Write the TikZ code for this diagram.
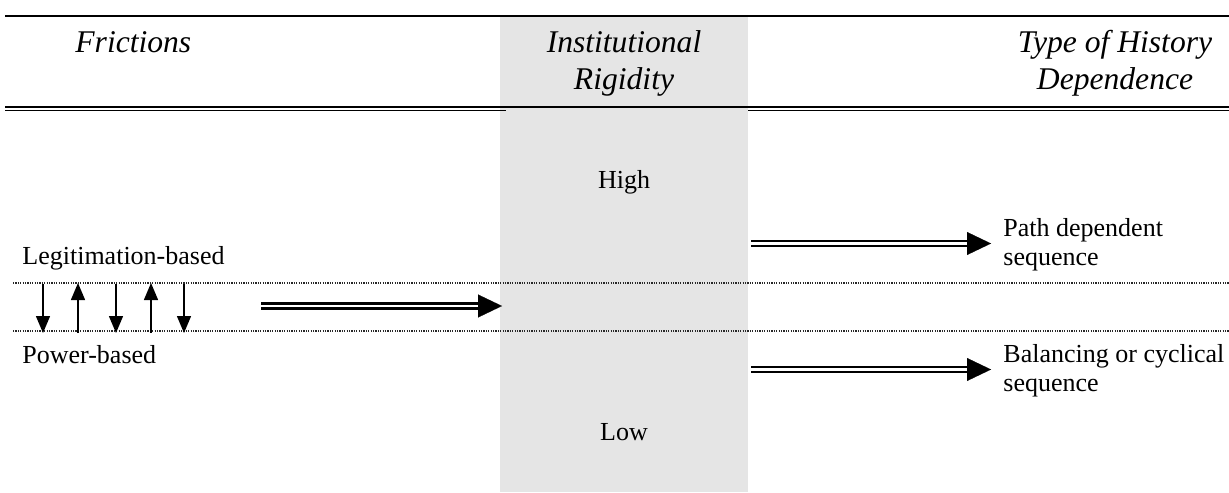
\documentclass[tikz,border=0pt]{standalone}
\usepackage{fontspec}
\setmainfont{Liberation Serif}
\usetikzlibrary{arrows.meta}
\definecolor{colgray}{RGB}{229,229,229}
\definecolor{dotgray}{RGB}{40,40,40}
\tikzset{
  body/.style={inner sep=0pt, font=\fontsize{13}{14.75}\selectfont},
  head/.style={inner sep=0pt, font=\fontsize{15.8}{18.5}\selectfont\itshape, align=center},
  rulethick/.style={line width=1pt},
  rulethin/.style={line width=0.5pt},
  dotline/.style={line width=0.55pt, dotgray, dash pattern=on 0.55pt off 0.65pt},
  smallarr/.style={line width=0.7pt, -{Triangle[width=7pt,length=8.5pt]}},
  dblshaft/.style={double, double distance=1.4pt, line width=1.25pt},
  bigtip/.style={line width=0.1pt, -{Triangle[width=11.5pt,length=12pt]}},
}
\begin{document}
\begin{tikzpicture}[x=0.5pt,y=-0.5pt]
\useasboundingbox (0,0) rectangle (1229,492);
% grey column
\fill[colgray] (500,17) rectangle (748,492);
% rules
\coordinate (tl) at (5,16); \coordinate (tr) at (1229,16);
\draw[rulethick] (tl) -- (tr);
\coordinate (ml) at (5,107); \coordinate (mr) at (1229,107);
\draw[rulethick] (ml) -- (mr);
\coordinate (t1a) at (5,110.5); \coordinate (t1b) at (506,110.5);
\coordinate (t2a) at (748,110.5); \coordinate (t2b) at (1229,110.5);
\draw[rulethin] (t1a) -- (t1b);
\draw[rulethin] (t2a) -- (t2b);
% dotted lines
\coordinate (d1a) at (13,283); \coordinate (d1b) at (1229,283);
\coordinate (d2a) at (13,331); \coordinate (d2b) at (1229,331);
\draw[dotline] (d1a) -- (d1b);
\draw[dotline] (d2a) -- (d2b);
% small arrows
\foreach \x/\n in {43/a,116/b,184/c}{
  \coordinate (s\n1) at (\x,284); \coordinate (s\n2) at (\x,333);
  \draw[smallarr] (s\n1) -- (s\n2);
}
\foreach \x/\n in {78/d,151/e}{
  \coordinate (s\n1) at (\x,333); \coordinate (s\n2) at (\x,283);
  \draw[smallarr] (s\n1) -- (s\n2);
}
% double arrows
\coordinate (m1) at (261,306); \coordinate (m2) at (502,306);
\coordinate (r1a) at (751,243.5); \coordinate (r1b) at (991,243.5);
\coordinate (r2a) at (751,369.5); \coordinate (r2b) at (991,369.5);
\foreach \a/\b in {m1/m2,r1a/r1b,r2a/r2b}{
  \draw[dblshaft, shorten >=10pt] (\a) -- (\b);
  \draw[bigtip, shorten <=112pt] (\a) -- (\b);
}
% headers
\node[head, anchor=base west] (fric) at (75,53) {Frictions};
\node[head, anchor=base] (inst) at (624,90) {Institutional\\Rigidity};
\node[head, anchor=base] (type) at (1115,90) {Type of History\\Dependence};
% body
\node[body, anchor=base] (high) at (624,188) {High};
\node[body, anchor=base] (low) at (624,440) {Low};
\node[body, anchor=base west] (leg) at (22,264) {Legitimation-based};
\node[body, anchor=base west] (pow) at (22,363) {Power-based};
\node[body, anchor=base west, align=left] (path) at (1003,265.5) {Path dependent\\sequence};
\node[body, anchor=base west, align=left] (bal) at (1003,391.5) {Balancing or cyclical\\sequence};
\end{tikzpicture}
\end{document}
